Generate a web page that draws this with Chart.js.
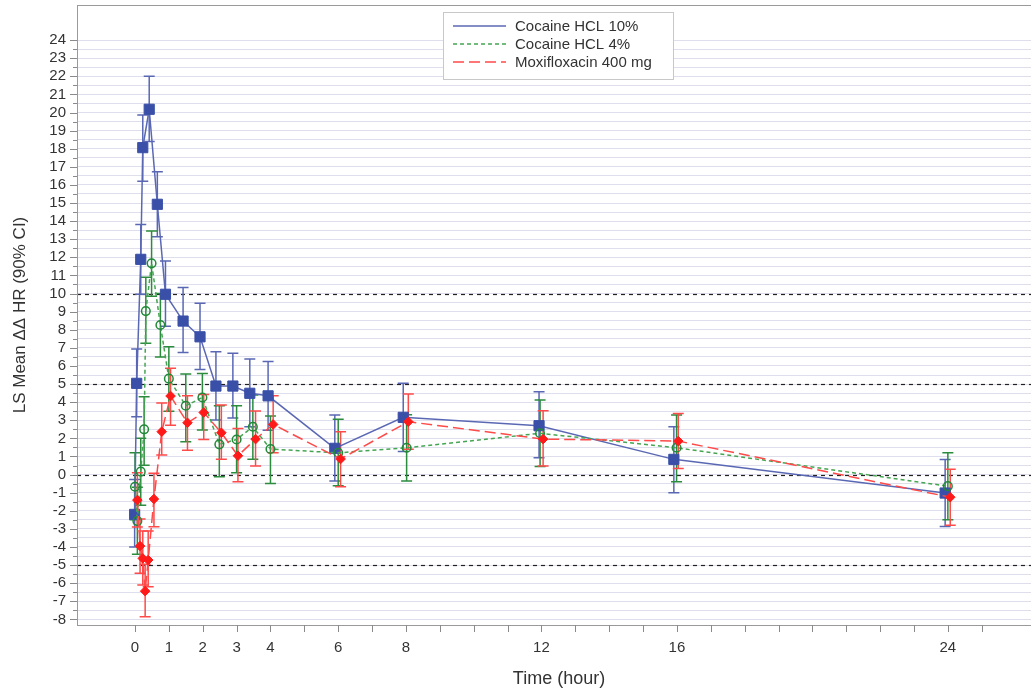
<!DOCTYPE html>
<html>
<head>
<meta charset="utf-8">
<script src="https://cdn.jsdelivr.net/npm/chart.js@4.4.1/dist/chart.umd.min.js"></script>
<style>
  html, body { margin: 0; padding: 0; background: #fff; overflow: hidden; width: 1031px; height: 694px; }
  canvas { display: block; }
</style>
</head>
<body>
<canvas id="chart" width="1045" height="694"></canvas>
<script>
// Cocaine HCL 10%
const cocaine10Time = [-0.01, 0.05, 0.17, 0.23, 0.42, 0.66, 0.90, 1.42, 1.92, 2.39, 2.89, 3.39, 3.93, 5.90, 7.92, 11.93, 15.91, 23.92];
const cocaine10Mean = [-2.2, 5.04, 11.89, 18.06, 20.18, 14.93, 9.96, 8.48, 7.61, 4.89, 4.89, 4.49, 4.35, 1.45, 3.16, 2.7, 0.84, -1.02];
const cocaine10Lower = [-4.0, 3.19, 9.96, 16.2, 18.4, 13.14, 8.2, 6.75, 5.81, 3.01, 3.12, 2.64, 2.45, -0.36, 1.27, 0.93, -1.0, -2.87];
const cocaine10Upper = [-0.27, 6.93, 13.82, 19.86, 22.0, 16.73, 11.8, 10.34, 9.46, 6.79, 6.7, 6.38, 6.25, 3.29, 5.04, 4.57, 2.64, 0.83];

// Cocaine HCL 4%
const cocaine4Time = [0.0, 0.07, 0.17, 0.27, 0.32, 0.49, 0.75, 1.0, 1.5, 1.99, 2.49, 3.0, 3.48, 4.0, 6.0, 8.02, 11.96, 15.99, 24.0];
const cocaine4Mean = [-0.67, -2.57, 0.16, 2.5, 9.03, 11.67, 8.26, 5.3, 3.8, 4.26, 1.67, 1.94, 2.64, 1.41, 1.2, 1.48, 2.28, 1.48, -0.64];
const cocaine4Lower = [-2.5, -4.4, -1.7, 0.52, 7.26, 9.85, 6.5, 3.5, 1.81, 2.46, -0.12, 0.1, 0.84, -0.5, -0.62, -0.36, 0.45, -0.4, -2.5];
const cocaine4Upper = [1.2, -0.7, 2.0, 4.3, 10.9, 13.45, 10.0, 7.06, 5.55, 5.59, 3.8, 3.8, 4.4, 3.23, 3.05, 3.3, 4.12, 3.29, 1.2];

// Moxifloxacin 400 mg
const moxiTime = [0.07, 0.15, 0.23, 0.30, 0.39, 0.56, 0.79, 1.05, 1.55, 2.03, 2.55, 3.04, 3.56, 4.08, 6.07, 8.07, 12.05, 16.04, 24.07];
const moxiMean = [-1.41, -3.95, -4.63, -6.44, -4.72, -1.35, 2.37, 4.34, 2.86, 3.43, 2.31, 1.04, 1.96, 2.77, 0.86, 2.92, 1.96, 1.85, -1.25];
const moxiLower = [-2.9, -5.45, -6.1, -7.86, -6.2, -2.88, 1.08, 2.73, 1.35, 1.94, 0.84, -0.4, 0.47, 1.2, -0.67, 1.4, 0.47, 0.34, -2.8];
const moxiUpper = [0.1, -2.45, -3.12, -4.95, -3.12, 0.07, 3.95, 5.87, 4.35, 4.43, 3.84, 2.55, 3.51, 4.35, 2.36, 4.45, 3.52, 3.38, 0.3];

const seriesNames = ["Cocaine HCL 10%", "Cocaine HCL 4%", "Moxifloxacin 400 mg"];
const refLines = [-5, 0, 5, 10];
const xTicks = [0, 1, 2, 3, 4, 5, 6, 7, 8, 9, 10, 11, 12, 13, 14, 15, 16, 17, 18, 19, 20, 21, 22, 23, 24, 25];
const xTickLabels = [0, 1, 2, 3, 4, 6, 8, 12, 16, 24];
const yTickLabels = [-8, -7, -6, -5, -4, -3, -2, -1, 0, 1, 2, 3, 4, 5, 6, 7, 8, 9, 10, 11, 12, 13, 14, 15, 16, 17, 18, 19, 20, 21, 22, 23, 24];

const FONT = "'Liberation Sans', Arial, sans-serif";

const toPoints = (xs, ys) => xs.map((x, i) => ({ x: x, y: ys[i] }));

// all half-unit gridlines between the labelled ticks
const yGrid = [];
yTickLabels.forEach((v, i) => {
  yGrid.push(v);
  if (i < yTickLabels.length - 1) yGrid.push(v + 0.5);
});

const errorBars = {
  id: "errorBars",
  beforeDatasetsDraw(chart) {
    const { ctx, scales: { x, y }, chartArea } = chart;
    ctx.save();
    ctx.beginPath();
    ctx.rect(chartArea.left, chartArea.top, chartArea.right - chartArea.left, chartArea.bottom - chartArea.top);
    ctx.clip();

    // reference lines
    ctx.strokeStyle = "#222";
    ctx.lineWidth = 1.2;
    ctx.setLineDash([4, 4]);
    refLines.forEach(v => {
      const py = Math.round(y.getPixelForValue(v)) + 0.5;
      ctx.beginPath();
      ctx.moveTo(chartArea.left, py);
      ctx.lineTo(chartArea.right, py);
      ctx.stroke();
    });
    ctx.setLineDash([]);

    // confidence intervals
    chart.data.datasets.forEach(ds => {
      ctx.strokeStyle = ds.errColor;
      ctx.lineWidth = 1.5;
      ds.data.forEach((p, i) => {
        const px = x.getPixelForValue(p.x);
        const lo = y.getPixelForValue(ds.lower[i]);
        const hi = y.getPixelForValue(ds.upper[i]);
        ctx.beginPath();
        ctx.moveTo(px, lo);
        ctx.lineTo(px, hi);
        ctx.moveTo(px - 5.5, lo);
        ctx.lineTo(px + 5.5, lo);
        ctx.moveTo(px - 5.5, hi);
        ctx.lineTo(px + 5.5, hi);
        ctx.stroke();
      });
    });
    ctx.restore();
  }
};

const frameAndTicks = {
  id: "frameAndTicks",
  afterDraw(chart) {
    const { ctx, scales: { x, y }, chartArea } = chart;
    ctx.save();
    ctx.strokeStyle = "#9a9a9a";
    ctx.lineWidth = 1;
    ctx.strokeRect(chartArea.left + 0.5, chartArea.top + 0.5, chartArea.right - chartArea.left, chartArea.bottom - chartArea.top);

    ctx.strokeStyle = "#8a8a8a";
    ctx.beginPath();
    yGrid.forEach(v => {
      const py = Math.round(y.getPixelForValue(v)) + 0.5;
      const len = Number.isInteger(v) ? 7 : 4;
      ctx.moveTo(chartArea.left - len, py);
      ctx.lineTo(chartArea.left, py);
    });
    xTicks.forEach(v => {
      const px = Math.round(x.getPixelForValue(v)) + 0.5;
      ctx.moveTo(px, chartArea.bottom);
      ctx.lineTo(px, chartArea.bottom + 7);
    });
    ctx.stroke();
    ctx.restore();
  }
};

const legendBox = {
  id: "legendBox",
  afterDraw(chart) {
    const { ctx } = chart;
    ctx.save();
    ctx.fillStyle = "#fff";
    ctx.fillRect(443, 12, 230, 67);
    ctx.strokeStyle = "#c8c8c8";
    ctx.lineWidth = 1;
    ctx.strokeRect(443.5, 12.5, 230, 67);
    ctx.font = "15px " + FONT;
    ctx.textBaseline = "middle";
    chart.data.datasets.forEach((ds, i) => {
      const ly = 26 + i * 18;
      ctx.strokeStyle = ds.borderColor;
      ctx.lineWidth = 1.5;
      ctx.setLineDash(ds.borderDash || []);
      ctx.beginPath();
      ctx.moveTo(453, ly);
      ctx.lineTo(506, ly);
      ctx.stroke();
      ctx.setLineDash([]);
      ctx.fillStyle = "#333";
      ctx.fillText(ds.label, 515, ly + 1);
    });
    ctx.restore();
  }
};

new Chart(document.getElementById("chart"), {
  type: "line",
  data: {
    datasets: [
      {
        label: seriesNames[0],
        data: toPoints(cocaine10Time, cocaine10Mean),
        lower: cocaine10Lower,
        upper: cocaine10Upper,
        errColor: "#5a68b4",
        borderColor: "#5a68b4",
        borderWidth: 1.5,
        pointStyle: "rect",
        pointRadius: 7.2,
        pointBackgroundColor: "#3a50a8",
        pointBorderColor: "#3a50a8",
        pointBorderWidth: 1,
        tension: 0,
        order: 3
      },
      {
        label: seriesNames[1],
        data: toPoints(cocaine4Time, cocaine4Mean),
        lower: cocaine4Lower,
        upper: cocaine4Upper,
        errColor: "#2a8c3c",
        borderColor: "#45a552",
        borderWidth: 1.5,
        borderDash: [4, 3],
        pointStyle: "circle",
        pointRadius: 4.3,
        pointBackgroundColor: "rgba(0,0,0,0)",
        pointBorderColor: "#22893a",
        pointBorderWidth: 1.5,
        tension: 0,
        order: 2
      },
      {
        label: seriesNames[2],
        data: toPoints(moxiTime, moxiMean),
        lower: moxiLower,
        upper: moxiUpper,
        errColor: "#ff4a4a",
        borderColor: "#ff4a4a",
        borderWidth: 1.5,
        borderDash: [11, 5],
        pointStyle: "rectRot",
        pointRadius: 4.8,
        pointBackgroundColor: "#ff1a1a",
        pointBorderColor: "#ff1a1a",
        pointBorderWidth: 1,
        tension: 0,
        order: 1
      }
    ]
  },
  options: {
    responsive: false,
    animation: false,
    devicePixelRatio: 1,
    layout: { autoPadding: false, padding: { top: 5, right: 4, left: 0, bottom: 0 } },
    plugins: {
      legend: { display: false },
      tooltip: { enabled: false }
    },
    scales: {
      x: {
        type: "linear",
        min: -1.712,
        max: 26.75,
        afterBuildTicks: scale => { scale.ticks = xTicks.map(v => ({ value: v })); },
        afterFit: scale => { scale.height = 69; scale.paddingLeft = 0; scale.paddingRight = 0; },
        grid: { display: false, drawTicks: false },
        border: { display: false },
        ticks: {
          autoSkip: false,
          maxRotation: 0,
          padding: 14,
          color: "#333",
          font: { family: FONT, size: 15 },
          callback: v => (xTickLabels.includes(v) ? String(v) : "")
        },
        title: {
          display: true,
          text: "Time (hour)",
          color: "#333",
          font: { family: FONT, size: 18 },
          padding: { top: 0, bottom: 4 }
        }
      },
      y: {
        min: -8.31,
        max: 25.94,
        afterBuildTicks: scale => { scale.ticks = yGrid.map(v => ({ value: v })); },
        afterFit: scale => { scale.width = 77; scale.paddingTop = 0; scale.paddingBottom = 0; },
        grid: { color: "#dedeec", lineWidth: 1, drawTicks: false },
        border: { display: false },
        ticks: {
          autoSkip: false,
          padding: 11,
          color: "#333",
          font: { family: FONT, size: 15 },
          callback: v => (yTickLabels.includes(v) ? String(v) : "")
        },
        title: {
          display: true,
          text: "LS Mean ΔΔ HR (90% CI)",
          color: "#333",
          font: { family: FONT, size: 17 },
          padding: { top: 10, bottom: 0 }
        }
      }
    }
  },
  plugins: [errorBars, frameAndTicks, legendBox]
});
</script>
</body>
</html>
